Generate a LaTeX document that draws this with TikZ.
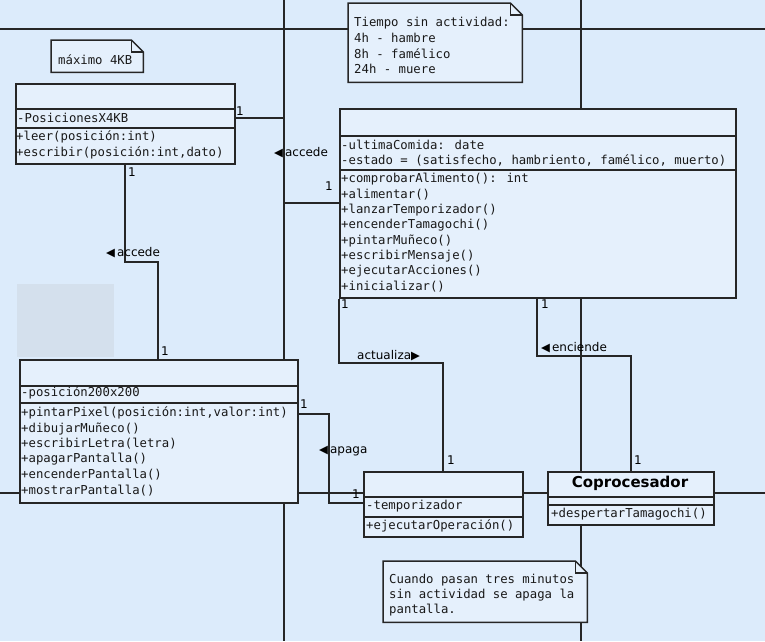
\documentclass[tikz,border=0pt]{standalone}
\usepackage{fontspec}
\setmainfont{DejaVu Sans}
\newfontfamily\monof{DejaVu Sans Mono}
\newfontfamily\labf{DejaVu Sans}
\usetikzlibrary{calc}
\definecolor{bgc}{RGB}{220,235,251}
\definecolor{boxc}{RGB}{229,240,252}
\definecolor{linec}{RGB}{38,38,38}
\definecolor{greyc}{RGB}{212,224,237}
\newcommand{\ltri}{{\fontsize{11.5}{11.5}\selectfont ◀}}
\newcommand{\rtri}{{\fontsize{11.5}{11.5}\selectfont ▶}}
\begin{document}
\begin{tikzpicture}[x=1pt,y=-1pt,
  umlbox/.style={draw=linec, line width=1.6pt, fill=boxc, anchor=north west, inner sep=0pt},
  guide/.style={draw=linec, line width=2pt},
  conn/.style={draw=linec, line width=1.6pt},
  mono/.style={font=\monof\fontsize{12.3}{15.4}\selectfont, anchor=west, inner sep=0pt, text=black!90},
  lab/.style={font=\labf\fontsize{12}{14}\selectfont, anchor=west, inner sep=0pt},
  mult/.style={font=\labf\fontsize{12}{14}\selectfont, inner sep=0pt},
  noteframe/.style={anchor=north west, inner sep=0pt},
  noteline/.style={draw=linec, line width=1.5pt, line join=miter},
]
\fill[bgc] (0,0) rectangle (765,641);
\useasboundingbox (0,0) rectangle (765,641);
% grey area
\fill[greyc] (17,284) rectangle (114,357);
% guide lines
\draw[guide] (0,29) -- (765,29);
\draw[guide] (0,493) -- (765,493);
\draw[guide] (284,0) -- (284,641);
\draw[guide] (581,0) -- (581,641);

% boxes
\node[umlbox, minimum width=219pt, minimum height=80pt] (mem) at (15,83) {};
\draw[conn] (mem.west |- 0,109) -- (mem.east |- 0,109);
\draw[conn] (mem.west |- 0,128) -- (mem.east |- 0,128);

\node[umlbox, minimum width=396pt, minimum height=189pt] (tam) at (339,108) {};
\draw[conn] (tam.west |- 0,136) -- (tam.east |- 0,136);
\draw[conn] (tam.west |- 0,170) -- (tam.east |- 0,170);

\node[umlbox, minimum width=278pt, minimum height=143pt] (pan) at (19,359) {};
\draw[conn] (pan.west |- 0,386) -- (pan.east |- 0,386);
\draw[conn] (pan.west |- 0,403) -- (pan.east |- 0,403);

\node[umlbox, minimum width=159pt, minimum height=65pt] (tmp) at (363,471) {};
\draw[conn] (tmp.west |- 0,497) -- (tmp.east |- 0,497);
\draw[conn] (tmp.west |- 0,517) -- (tmp.east |- 0,517);

\node[umlbox, minimum width=166pt, minimum height=53pt] (cop) at (547,471) {};
\draw[conn] (cop.west |- 0,497) -- (cop.east |- 0,497);
\draw[conn] (cop.west |- 0,505) -- (cop.east |- 0,505);

% notes
\node[noteframe, minimum width=92pt, minimum height=32pt] (n1) at (51,40) {};
\node[noteframe, minimum width=174pt, minimum height=79pt] (n2) at (348,3) {};
\node[noteframe, minimum width=204pt, minimum height=61pt] (n3) at (383,561) {};
\foreach \n in {n1,n2,n3}{
  \filldraw[noteline, fill=boxc] (\n.north west) -- ([xshift=-12pt]\n.north east) -- ([yshift=-12pt]\n.north east) -- (\n.south east) -- (\n.south west) -- cycle;
  \draw[noteline] ([xshift=-12pt]\n.north east) -- ([xshift=-12pt,yshift=-12pt]\n.north east) -- ([yshift=-12pt]\n.north east);
}

% connectors
\draw[conn] (mem.east |- 0,118) -- (284.6,118) -- (284.6,203) -- (tam.west |- 0,203);
\draw[conn] (mem.south -| 125,0) -- (125,262) -- (158,262) -- (pan.north -| 158,0);
\draw[conn] (tam.south west) -- (339,363) -- (443,363) -- (tmp.north -| 443,0);
\draw[conn] (tam.south -| 537,0) -- (537,356) -- (631,356) -- (cop.north -| 631,0);
\draw[conn] (pan.east |- 0,414) -- (329,414) -- (329,503) -- (tmp.west |- 0,503);

% texts: memory
\node[mono] (m1) at (17,118) {-PosicionesX4KB};
\node[mono] (m2) at (16,137) {+leer(posición:int)};
\node[mono] (m3) at (16,153) {+escribir(posición:int,dato)};
% tamagochi
\node[mono] (t1) at (341,145) {-ultimaComida: date};
\node[mono] (t2) at (341,160) {-estado = (satisfecho, hambriento, famélico, muerto)};
\node[mono] (t3) at (341,179) {+comprobarAlimento(): int};
\node[mono] (t4) at (341,194.4) {+alimentar()};
\node[mono] (t5) at (341,209.8) {+lanzarTemporizador()};
\node[mono] (t6) at (341,225.2) {+encenderTamagochi()};
\node[mono] (t7) at (341,240.6) {+pintarMuñeco()};
\node[mono] (t8) at (341,256) {+escribirMensaje()};
\node[mono] (t9) at (341,271.4) {+ejecutarAcciones()};
\node[mono] (t10) at (341,286.8) {+inicializar()};
% pantalla
\node[mono] (p1) at (21,393) {-posición200x200};
\node[mono] (p2) at (21,413) {+pintarPixel(posición:int,valor:int)};
\node[mono] (p3) at (21,428.5) {+dibujarMuñeco()};
\node[mono] (p4) at (21,444) {+escribirLetra(letra)};
\node[mono] (p5) at (21,459.5) {+apagarPantalla()};
\node[mono] (p6) at (21,475) {+encenderPantalla()};
\node[mono] (p7) at (21,490.5) {+mostrarPantalla()};
% temporizador
\node[mono] (r1) at (366,506) {-temporizador};
\node[mono] (r2) at (366,526) {+ejecutarOperación()};
% coprocesador
\node[font=\labf\bfseries\fontsize{15}{17}\selectfont, inner sep=0pt] (c0) at (630,483) {Coprocesador};
\node[mono] (c1) at (551,514) {+despertarTamagochi()};
% notes text
\node[mono] (nt1) at (58,60) {máximo 4KB};
\node[mono] (nt2) at (354,23) {Tiempo sin actividad:};
\node[mono] (nt3) at (354,38.4) {4h - hambre};
\node[mono] (nt4) at (354,53.8) {8h - famélico};
\node[mono] (nt5) at (354,69.2) {24h - muere};
\node[mono] (nt6) at (389,580) {Cuando pasan tres minutos};
\node[mono] (nt7) at (389,595) {sin actividad se apaga la};
\node[mono] (nt8) at (389,610) {pantalla.};

% association labels
\node[lab] (l1) at (274,153) {\ltri\,accede};
\node[lab] (l2) at (106,253) {\ltri\,accede};
\node[lab] (l3) at (357,356) {actualiza\rtri};
\node[lab] (l4) at (541,348) {\ltri\,enciende};
\node[lab] (l5) at (319,451) {\ltri\,apaga};

% multiplicities
\node[mult] (k1) at (240,111) {1};
\node[mult] (k2) at (329,186) {1};
\node[mult] (k3) at (132,172) {1};
\node[mult] (k4) at (165,351) {1};
\node[mult] (k5) at (345,304) {1};
\node[mult] (k6) at (545,304) {1};
\node[mult] (k7) at (451,460) {1};
\node[mult] (k8) at (638,460) {1};
\node[mult] (k9) at (304,404) {1};
\node[mult] (k10) at (356,494) {1};
\end{tikzpicture}
\end{document}
